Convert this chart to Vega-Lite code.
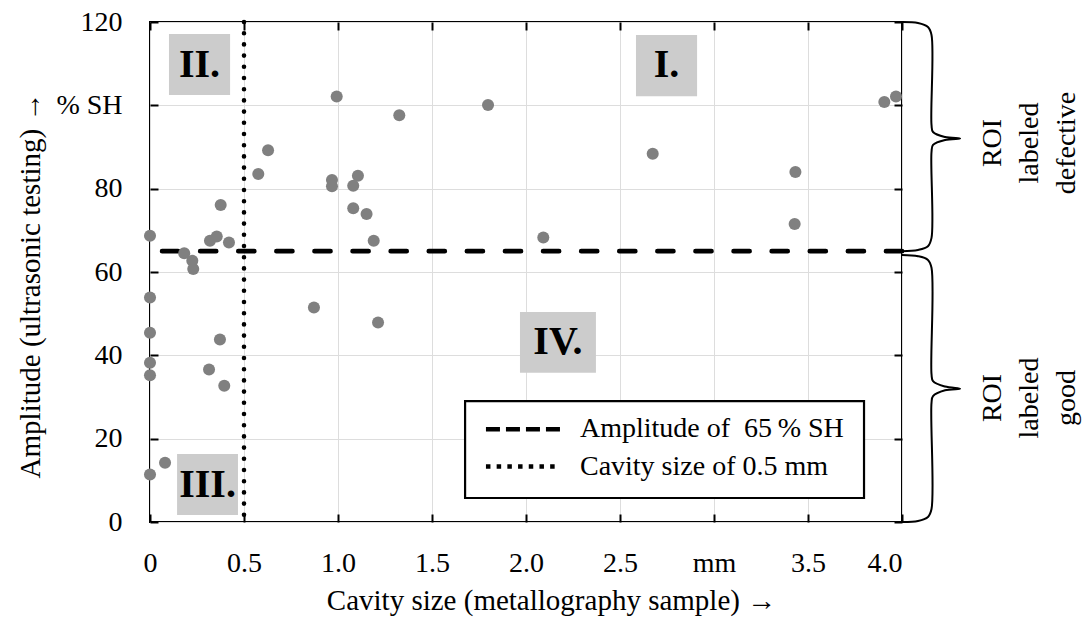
{
  "$schema": "https://vega.github.io/schema/vega-lite/v6.json",
  "width": 752,
  "height": 500,
  "autosize": {"type": "none"},
  "padding": {"left": 150, "top": 22, "right": 184, "bottom": 99},
  "background": "white",
  "config": {
    "view": {"stroke": "black", "strokeWidth": 2},
    "font": "Liberation Serif",
    "axis": {
      "labelFont": "Liberation Serif",
      "titleFont": "Liberation Serif",
      "labelColor": "black",
      "titleColor": "black",
      "titleFontWeight": "normal",
      "labelFontSize": 28,
      "titleFontSize": 29,
      "gridColor": "#dddddd",
      "gridWidth": 1,
      "domain": false,
      "tickColor": "black",
      "tickWidth": 2,
      "tickSize": -8
    }
  },
  "datasets": {
    "pts": [
      {"cavity": 0, "amplitude": 68.7},
      {"cavity": 0, "amplitude": 53.9},
      {"cavity": 0, "amplitude": 45.4},
      {"cavity": 0, "amplitude": 38.2},
      {"cavity": 0, "amplitude": 35.2},
      {"cavity": 0, "amplitude": 11.4},
      {"cavity": 0.08, "amplitude": 14.2},
      {"cavity": 0.182, "amplitude": 64.5},
      {"cavity": 0.225, "amplitude": 62.7},
      {"cavity": 0.23, "amplitude": 60.7},
      {"cavity": 0.314, "amplitude": 36.6},
      {"cavity": 0.319, "amplitude": 67.5},
      {"cavity": 0.355, "amplitude": 68.5},
      {"cavity": 0.372, "amplitude": 43.8},
      {"cavity": 0.376, "amplitude": 76.1},
      {"cavity": 0.395, "amplitude": 32.7},
      {"cavity": 0.42, "amplitude": 67.1},
      {"cavity": 0.576, "amplitude": 83.5},
      {"cavity": 0.628, "amplitude": 89.2},
      {"cavity": 0.872, "amplitude": 51.5},
      {"cavity": 0.968, "amplitude": 82.1},
      {"cavity": 0.968, "amplitude": 80.6},
      {"cavity": 0.993, "amplitude": 102.1},
      {"cavity": 1.081, "amplitude": 80.7},
      {"cavity": 1.081, "amplitude": 75.3},
      {"cavity": 1.106, "amplitude": 83.1},
      {"cavity": 1.152, "amplitude": 73.9},
      {"cavity": 1.19, "amplitude": 67.5},
      {"cavity": 1.213, "amplitude": 47.9},
      {"cavity": 1.326, "amplitude": 97.6},
      {"cavity": 1.798, "amplitude": 100.1},
      {"cavity": 2.092, "amplitude": 68.3},
      {"cavity": 2.674, "amplitude": 88.4},
      {"cavity": 3.429, "amplitude": 71.5},
      {"cavity": 3.433, "amplitude": 84.0},
      {"cavity": 3.906, "amplitude": 100.8},
      {"cavity": 3.968, "amplitude": 102.1}
    ],
    "regions": [
      {"label": "II.", "xc": 0.263, "yc": 109.8, "x1": 0.101, "x2": 0.426, "y1": 102.5, "y2": 117.1},
      {"label": "I.", "xc": 2.747, "yc": 109.6, "x1": 2.585, "x2": 2.91, "y1": 102.2, "y2": 116.9},
      {"label": "III.", "xc": 0.306, "yc": 9.0, "x1": 0.144, "x2": 0.468, "y1": 1.7, "y2": 16.3},
      {"label": "IV.", "xc": 2.17, "yc": 43.1, "x1": 1.968, "x2": 2.372, "y1": 35.8, "y2": 50.4}
    ],
    "legendbox": [
      {"x1": 1.676, "x2": 3.798, "y1": 5.76, "y2": 29.0}
    ],
    "legendrows": [
      {"kind": "dash", "sx1": 1.787, "sx2": 2.181, "ty": 22.25, "tx": 2.287, "text": "Amplitude of\u00a0 65\u2009% SH"},
      {"kind": "dot", "sx1": 1.787, "sx2": 2.181, "ty": 13.3, "tx": 2.287, "text": "Cavity size of 0.5 mm"}
    ],
    "braces": [
      {"brace": "upper", "i": 0, "bx": 4.0, "by": 120.0},
      {"brace": "upper", "i": 1, "bx": 4.085, "by": 119.76},
      {"brace": "upper", "i": 2, "bx": 4.138, "by": 118.8},
      {"brace": "upper", "i": 3, "bx": 4.157, "by": 116.9},
      {"brace": "upper", "i": 4, "bx": 4.157, "by": 95.3},
      {"brace": "upper", "i": 5, "bx": 4.165, "by": 93.6},
      {"brace": "upper", "i": 6, "bx": 4.229, "by": 92.4},
      {"brace": "upper", "i": 7, "bx": 4.309, "by": 92.04},
      {"brace": "upper", "i": 8, "bx": 4.229, "by": 91.7},
      {"brace": "upper", "i": 9, "bx": 4.165, "by": 90.5},
      {"brace": "upper", "i": 10, "bx": 4.157, "by": 88.8},
      {"brace": "upper", "i": 11, "bx": 4.157, "by": 68.2},
      {"brace": "upper", "i": 12, "bx": 4.138, "by": 66.2},
      {"brace": "upper", "i": 13, "bx": 4.085, "by": 65.3},
      {"brace": "upper", "i": 14, "bx": 4.0, "by": 65.0},
      {"brace": "lower", "i": 0, "bx": 4.0, "by": 64.1},
      {"brace": "lower", "i": 1, "bx": 4.085, "by": 63.8},
      {"brace": "lower", "i": 2, "bx": 4.138, "by": 62.9},
      {"brace": "lower", "i": 3, "bx": 4.157, "by": 61.0},
      {"brace": "lower", "i": 4, "bx": 4.157, "by": 35.5},
      {"brace": "lower", "i": 5, "bx": 4.165, "by": 33.8},
      {"brace": "lower", "i": 6, "bx": 4.229, "by": 32.5},
      {"brace": "lower", "i": 7, "bx": 4.309, "by": 32.0},
      {"brace": "lower", "i": 8, "bx": 4.229, "by": 31.6},
      {"brace": "lower", "i": 9, "bx": 4.165, "by": 30.2},
      {"brace": "lower", "i": 10, "bx": 4.157, "by": 28.6},
      {"brace": "lower", "i": 11, "bx": 4.157, "by": 3.1},
      {"brace": "lower", "i": 12, "bx": 4.138, "by": 1.2},
      {"brace": "lower", "i": 13, "bx": 4.085, "by": 0.24},
      {"brace": "lower", "i": 14, "bx": 4.0, "by": 0.0}
    ],
    "roi": [
      {"tx": 4.484, "ty": 90.96, "lines": ["ROI", "labeled", "defective"]},
      {"tx": 4.484, "ty": 29.76, "lines": ["ROI", "labeled", "good"]}
    ]
  },
  "layer": [
    {
      "data": {"name": "regions"},
      "mark": {"type": "rect", "fill": "#cccccc"},
      "encoding": {
        "x": {
          "field": "x1", "type": "quantitative",
          "scale": {"domain": [0, 4], "nice": false, "zero": false},
          "axis": {
            "orient": "bottom",
            "values": [0, 0.5, 1, 1.5, 2, 2.5, 3, 3.5, 4],
            "grid": true,
            "labelFlush": false,
            "labelAlign": {"condition": {"test": "datum.value == 4", "value": "right"}, "value": "center"},
            "labelPadding": 35,
            "labelExpr": "datum.value == 3 ? 'mm' : (datum.value == 0 ? '0' : format(datum.value, '.1f'))",
            "title": "Cavity size (metallography sample) \u2192",
            "titleX": 401,
            "titleY": 78,
            "titleBaseline": "middle",
            "titleAlign": "center"
          }
        },
        "x2": {"field": "x2"},
        "y": {
          "field": "y1", "type": "quantitative",
          "scale": {"domain": [0, 120], "nice": false, "zero": false},
          "axis": {
            "orient": "left",
            "values": [0, 20, 40, 60, 80, 100, 120],
            "grid": true,
            "labelPadding": 36,
            "labelExpr": "datum.value == 100 ? '% SH' : format(datum.value, 'd')",
            "title": "Amplitude (ultrasonic testing) \u2192",
            "titleX": -120,
            "titleY": 263,
            "titleAngle": 270,
            "titleBaseline": "middle",
            "titleAlign": "center"
          }
        },
        "y2": {"field": "y2"}
      }
    },
    {
      "data": {"values": [{}]},
      "mark": {"type": "rule", "stroke": "black", "strokeWidth": 4.7, "strokeDash": [16, 22.1], "strokeCap": "round"},
      "encoding": {
        "y": {
          "datum": 65, "type": "quantitative",
          "scale": {"domain": [0, 120], "nice": false, "zero": false},
          "axis": {"orient": "right", "values": [0, 20, 40, 60, 80, 100, 120], "labels": false, "grid": false, "title": null}
        }
      }
    },
    {
      "data": {"values": [{}]},
      "mark": {"type": "rule", "stroke": "black", "strokeWidth": 4.6, "strokeDash": [0, 11.2], "strokeCap": "round"},
      "encoding": {
        "x": {
          "datum": 0.5, "type": "quantitative",
          "scale": {"domain": [0, 4], "nice": false, "zero": false},
          "axis": {"orient": "top", "values": [0, 0.5, 1, 1.5, 2, 2.5, 3, 3.5, 4], "labels": false, "grid": false, "title": null}
        }
      }
    },
    {
      "data": {"name": "pts"},
      "mark": {"type": "point", "filled": true, "shape": "circle", "size": 145, "color": "#808080", "opacity": 1},
      "encoding": {
        "x": {"field": "cavity", "type": "quantitative", "scale": {"domain": [0, 4], "nice": false, "zero": false}, "axis": null},
        "y": {"field": "amplitude", "type": "quantitative", "scale": {"domain": [0, 120], "nice": false, "zero": false}, "axis": null}
      }
    },
    {
      "data": {"name": "regions"},
      "mark": {"type": "text", "font": "Liberation Serif", "fontWeight": "bold", "fontSize": 40, "align": "center", "baseline": "middle", "color": "black"},
      "encoding": {
        "x": {"field": "xc", "type": "quantitative", "scale": {"domain": [0, 4], "nice": false, "zero": false}, "axis": null},
        "y": {"field": "yc", "type": "quantitative", "scale": {"domain": [0, 120], "nice": false, "zero": false}, "axis": null},
        "text": {"field": "label"}
      }
    },
    {
      "data": {"name": "legendbox"},
      "mark": {"type": "rect", "fill": "white", "stroke": "black", "strokeWidth": 2.2},
      "encoding": {
        "x": {"field": "x1", "type": "quantitative", "scale": {"domain": [0, 4], "nice": false, "zero": false}, "axis": null},
        "x2": {"field": "x2"},
        "y": {"field": "y1", "type": "quantitative", "scale": {"domain": [0, 120], "nice": false, "zero": false}, "axis": null},
        "y2": {"field": "y2"}
      }
    },
    {
      "data": {"name": "legendrows"},
      "mark": {"type": "rule", "stroke": "black", "strokeWidth": 4.5},
      "encoding": {
        "x": {"field": "sx1", "type": "quantitative", "scale": {"domain": [0, 4], "nice": false, "zero": false}, "axis": null},
        "x2": {"field": "sx2"},
        "y": {"field": "ty", "type": "quantitative", "scale": {"domain": [0, 120], "nice": false, "zero": false}, "axis": null},
        "strokeDash": {"field": "kind", "type": "nominal", "scale": {"domain": ["dash", "dot"], "range": [[14, 6], [4.5, 6.2]]}, "legend": null}
      }
    },
    {
      "data": {"name": "legendrows"},
      "mark": {"type": "text", "font": "Liberation Serif", "fontSize": 28, "align": "left", "baseline": "middle", "color": "black"},
      "encoding": {
        "x": {"field": "tx", "type": "quantitative", "scale": {"domain": [0, 4], "nice": false, "zero": false}, "axis": null},
        "y": {"field": "ty", "type": "quantitative", "scale": {"domain": [0, 120], "nice": false, "zero": false}, "axis": null},
        "text": {"field": "text"}
      }
    },
    {
      "data": {"name": "braces"},
      "mark": {"type": "line", "stroke": "black", "strokeWidth": 2, "interpolate": "catmull-rom", "clip": false},
      "encoding": {
        "x": {"field": "bx", "type": "quantitative", "scale": {"domain": [0, 4], "nice": false, "zero": false}, "axis": null},
        "y": {"field": "by", "type": "quantitative", "scale": {"domain": [0, 120], "nice": false, "zero": false}, "axis": null},
        "detail": {"field": "brace"},
        "order": {"field": "i", "type": "quantitative"}
      }
    },
    {
      "data": {"name": "roi"},
      "mark": {"type": "text", "font": "Liberation Serif", "fontSize": 28, "align": "center", "baseline": "middle", "angle": 270, "lineHeight": 37, "color": "black"},
      "encoding": {
        "x": {"field": "tx", "type": "quantitative", "scale": {"domain": [0, 4], "nice": false, "zero": false}, "axis": null},
        "y": {"field": "ty", "type": "quantitative", "scale": {"domain": [0, 120], "nice": false, "zero": false}, "axis": null},
        "text": {"field": "lines"}
      }
    }
  ],
  "resolve": {"axis": {"x": "independent", "y": "independent"}}
}
